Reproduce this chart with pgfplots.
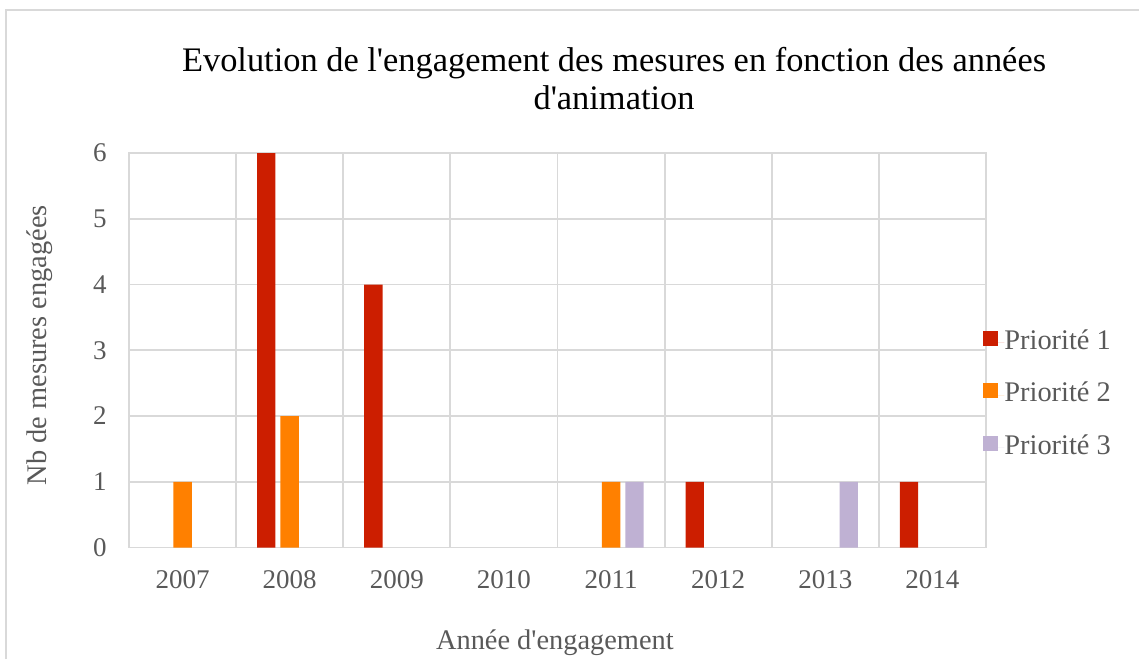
\documentclass[border=0pt]{standalone}
\usepackage{pgfplots}
\pgfplotsset{compat=1.18}
\usepackage{fontspec}
\setmainfont{Liberation Serif}
\definecolor{p1}{RGB}{204,30,0}
\definecolor{p2}{RGB}{255,128,0}
\definecolor{p3}{RGB}{191,177,211}
\definecolor{gridc}{RGB}{217,217,217}
\definecolor{txt}{RGB}{89,89,89}
\begin{document}
\begin{tikzpicture}
\useasboundingbox (0,0) rectangle (569.5pt,329.5pt);
\draw[gridc, line width=0.6pt] (3pt,0) -- (3pt,324.5pt) -- (569.5pt,324.5pt);
\begin{axis}[
  at={(64.5pt,55.75pt)}, anchor=south west,
  scale only axis, width=428.5pt, height=197.25pt,
  ybar, bar width=0.172,
  xmin=-0.5, xmax=7.5, ymin=0, ymax=6,
  xtick={0,...,7},
  xticklabels={2007,2008,2009,2010,2011,2012,2013,2014},
  ytick={0,...,6},
  minor xtick={0.5,1.5,...,6.5},
  major tick length=0pt, minor tick length=0pt,
  ymajorgrids, xminorgrids,
  grid style={draw=gridc, line width=0.9pt},
  minor grid style={draw=gridc, line width=0.9pt},
  axis line style={draw=gridc, line width=0.9pt},
  tick label style={font=\fontsize{13.5}{15}\selectfont, text=txt},
  /pgf/number format/assume math mode=true,
  yticklabel style={anchor=east, inner sep=0pt, xshift=-11pt},
  xticklabel style={anchor=base, inner sep=0pt, yshift=-20.25pt},
  title={Evolution de l\textquotesingle engagement des mesures en fonction des années\\d\textquotesingle animation},
  title style={at={(axis description cs:0.566,1.238)}, anchor=north, inner sep=0pt, align=center, font=\fontsize{17.2}{19}\selectfont, text=black},
  xlabel={Année d\textquotesingle engagement},
  xlabel style={at={(axis description cs:0.497,-0.2598)}, anchor=base, inner sep=0pt, font=\fontsize{14.2}{16}\selectfont, text=txt},
  ylabel={Nb de mesures engagées},
  ylabel style={at={(axis description cs:-0.1039,0.513)}, anchor=center, inner sep=0pt, font=\fontsize{14.2}{16}\selectfont, text=txt},
  legend style={at={(axis description cs:0.9965,0.386)}, anchor=west, draw=none, fill=none,
    font=\fontsize{14.2}{16}\selectfont, text=txt, row sep=13.8pt, inner sep=0pt,
    nodes={inner sep=0pt, text height=9.5pt, text depth=3pt}},
  legend cell align=left,
  legend image code/.code={\fill[#1] (0pt,-1.5pt) rectangle (7.5pt,6pt); \path (0pt,0pt) -- (10.5pt,0pt);},
]
\addplot[fill=p1, draw=none, bar shift=-0.219] coordinates {(1,6) (2,4) (5,1) (7,1)};
\addplot[fill=p2, draw=none, bar shift=0] coordinates {(0,1) (1,2) (4,1)};
\addplot[fill=p3, draw=none, bar shift=0.219] coordinates {(4,1) (6,1)};
\legend{Priorité 1, Priorité 2, Priorité 3}
\end{axis}
\end{tikzpicture}
\end{document}
